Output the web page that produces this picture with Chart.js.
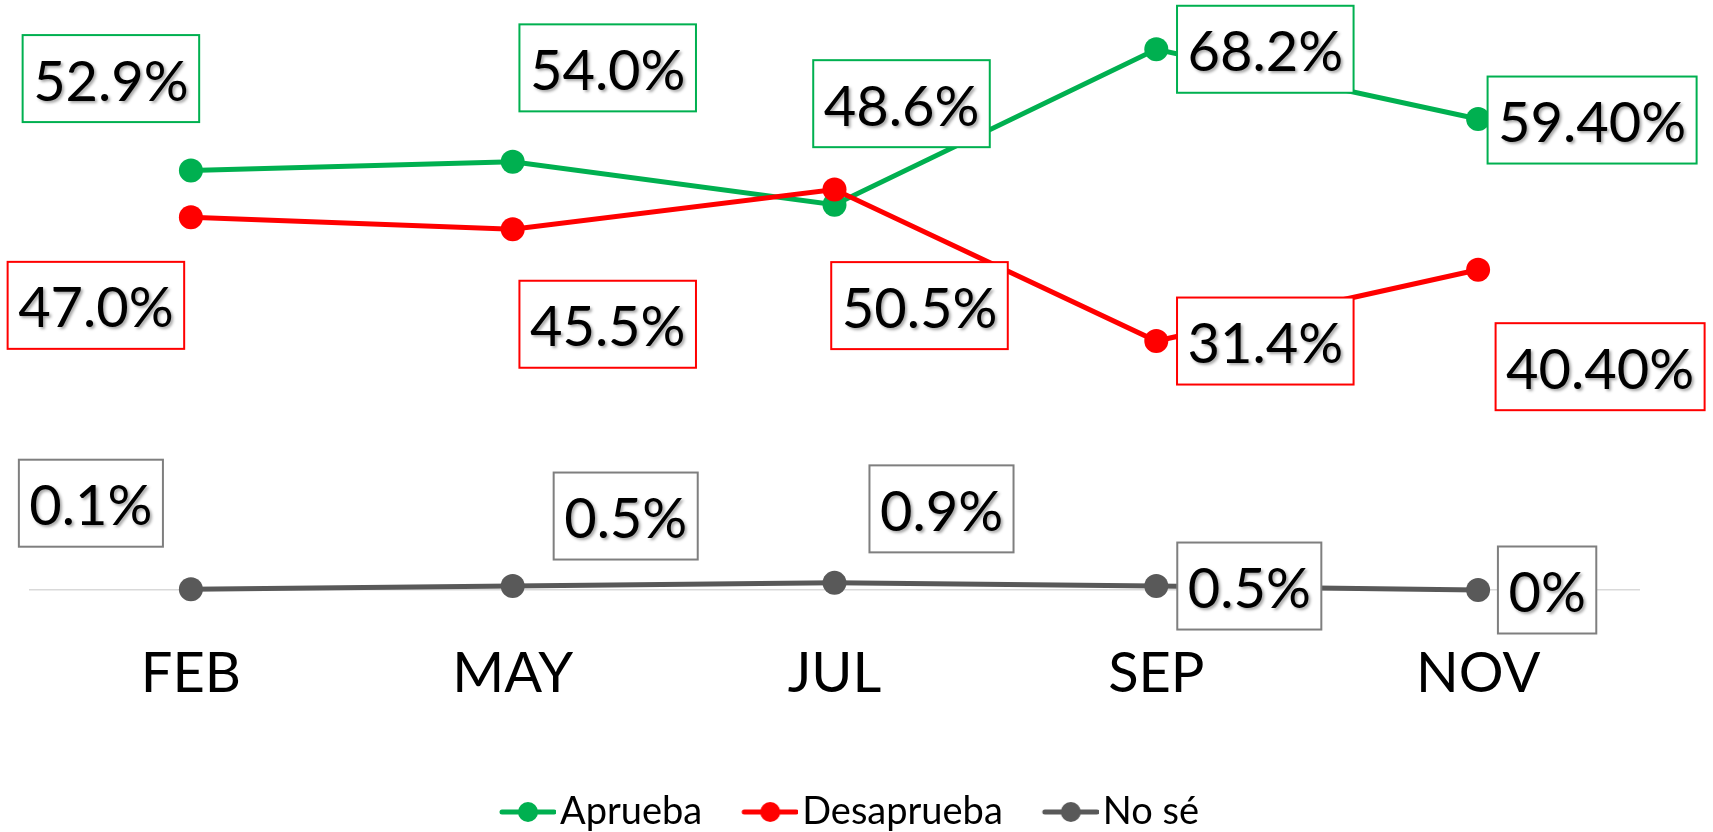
<!DOCTYPE html>
<html>
<head>
<meta charset="utf-8">
<script src="https://cdn.jsdelivr.net/npm/chart.js@4.4.0/dist/chart.umd.min.js"></script>
<style>
  html, body { margin: 0; padding: 0; background: #fff; }
  #contenedor { width: 1713px; height: 832px; }
</style>
</head>
<body>
<div id="contenedor"><canvas id="graficoAprobacion"></canvas></div>
<script>
// Datos
const meses = ['FEB', 'MAY', 'JUL', 'SEP', 'NOV'];
const aprueba = [52.9, 54.0, 48.6, 68.2, 59.4];
const desaprueba = [47.0, 45.5, 50.5, 31.4, 40.4];
const noSe = [0.1, 0.5, 0.9, 0.5, 0];

const etiquetasAprueba = ['52.9%', '54.0%', '48.6%', '68.2%', '59.40%'];
const etiquetasDesaprueba = ['47.0%', '45.5%', '50.5%', '31.4%', '40.40%'];
const etiquetasNoSe = ['0.1%', '0.5%', '0.9%', '0.5%', '0%'];

// Posicion de cada etiqueta respecto a su punto (px)
const despAprueba = [[-80, -92], [95, -94], [67, -101], [109, 0], [114, 1]];
const despDesaprueba = [[-95, 88], [95, 95], [85, 116], [109, 0], [122, 97]];
const despNoSe = [[-100, -86], [113, -70], [107, -74], [93, 0], [69, 0]];

const FUENTE = 'Lato, "Open Sans", sans-serif';

// Icono de leyenda: linea con punto
function iconoLeyenda(color) {
  const c = document.createElement('canvas');
  c.width = 101;
  c.height = 26;
  const g = c.getContext('2d');
  g.strokeStyle = color;
  g.lineWidth = 5;
  g.lineCap = 'round';
  g.beginPath();
  g.moveTo(47, 13);
  g.lineTo(99, 13);
  g.stroke();
  g.fillStyle = color;
  g.beginPath();
  g.arc(73, 13, 10, 0, Math.PI * 2);
  g.fill();
  return c;
}

// Etiquetas con caja
const etiquetasPlugin = {
  id: 'etiquetasCaja',
  afterDatasetsDraw(chart) {
    const ctx = chart.ctx;
    ctx.save();
    ctx.font = '56px ' + FUENTE;
    chart.data.datasets.forEach((ds, i) => {
      const meta = chart.getDatasetMeta(i);
      meta.data.forEach((pt, j) => {
        const [dx, dy] = ds.desplazamientos[j];
        const texto = ds.etiquetas[j];
        const cx = pt.x + dx;
        const cy = pt.y + dy;
        const w = ctx.measureText(texto).width + 21;
        const h = 87;
        ctx.shadowColor = 'transparent';
        ctx.fillStyle = '#fff';
        ctx.fillRect(cx - w / 2, cy - h / 2, w, h);
        ctx.lineWidth = 2;
        ctx.strokeStyle = ds.colorCaja;
        ctx.strokeRect(cx - w / 2, cy - h / 2, w, h);
        ctx.fillStyle = '#000';
        ctx.textAlign = 'center';
        ctx.textBaseline = 'alphabetic';
        ctx.shadowColor = 'rgba(0,0,0,0.35)';
        ctx.shadowBlur = 3;
        ctx.shadowOffsetX = 2;
        ctx.shadowOffsetY = 2;
        ctx.fillText(texto, cx, cy + 22);
      });
    });
    ctx.restore();
  }
};

function serie(label, data, color, colorCaja, etiquetas, desp, orden) {
  return {
    label,
    data,
    borderColor: color,
    backgroundColor: color,
    pointBackgroundColor: color,
    pointBorderColor: color,
    pointBorderWidth: 0,
    pointRadius: 12,
    pointHoverRadius: 12,
    borderWidth: 5,
    tension: 0,
    clip: false,
    order: orden,
    colorCaja,
    etiquetas,
    desplazamientos: desp
  };
}

const datasets = [
  serie('Aprueba', aprueba, '#00B050', '#00B050', etiquetasAprueba, despAprueba, 2),
  serie('Desaprueba', desaprueba, '#FF0000', '#FF0000', etiquetasDesaprueba, despDesaprueba, 1),
  serie('No sé', noSe, '#595959', '#7F7F7F', etiquetasNoSe, despNoSe, 3)
];
const iconos = datasets.map(d => iconoLeyenda(d.borderColor));

new Chart(document.getElementById('graficoAprobacion'), {
  type: 'line',
  data: { labels: meses, datasets },
  options: {
    responsive: true,
    maintainAspectRatio: false,
    animation: false,
    layout: { padding: { left: 30, right: 74, top: 35, bottom: -9 } },
    plugins: {
      tooltip: { enabled: false },
      legend: {
        position: 'bottom',
        labels: {
          usePointStyle: true,
          pointStyleWidth: 71,
          padding: 10,
          color: '#000',
          font: { family: FUENTE, size: 38 },
          generateLabels(chart) {
            return chart.data.datasets.map((ds, i) => ({
              text: ds.label,
              pointStyle: iconos[i],
              fillStyle: ds.borderColor,
              strokeStyle: ds.borderColor,
              lineWidth: 0,
              hidden: false,
              fontColor: '#000',
              datasetIndex: i
            }));
          }
        }
      }
    },
    scales: {
      x: {
        offset: true,
        grid: { display: false, drawTicks: false },
        border: { display: true, color: '#d9d9d9', width: 1.5 },
        ticks: { color: '#000', padding: 50, font: { family: FUENTE, size: 56 } },
        afterFit(scale) { scale.height = 193; }
      },
      y: {
        display: false,
        min: 0,
        max: 70
      }
    }
  },
  plugins: [etiquetasPlugin]
});
</script>
</body>
</html>
